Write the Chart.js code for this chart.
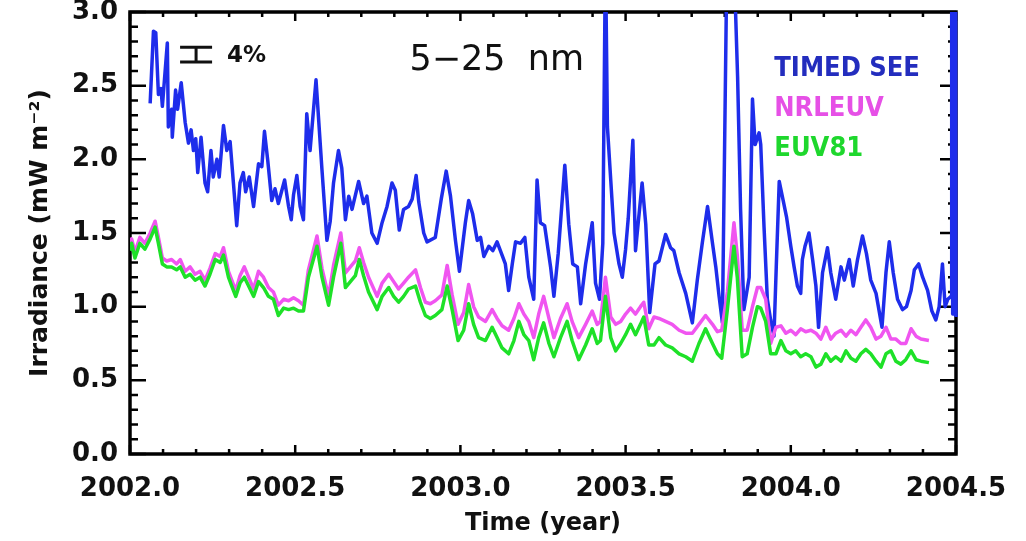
<!DOCTYPE html>
<html>
<head>
<meta charset="utf-8">
<script src="https://cdn.jsdelivr.net/npm/chart.js@4/dist/chart.umd.min.js"></script>
<style>
  html, body { margin: 0; padding: 0; background: #fff; }
  canvas { display: block; }
</style>
</head>
<body>
<canvas id="myChart" width="1026" height="541"></canvas>
<script>
// TIMED SEE measurements (time in fractional years, irradiance in mW m^-2)
var blueYears = [
  2002.061, 2002.071, 2002.078, 2002.086, 2002.094, 2002.098, 2002.113, 2002.116, 2002.126, 2002.128,
  2002.138, 2002.144, 2002.155, 2002.167, 2002.177, 2002.185, 2002.192, 2002.199, 2002.205, 2002.215,
  2002.227, 2002.235, 2002.245, 2002.252, 2002.263, 2002.270, 2002.283, 2002.293, 2002.303, 2002.313,
  2002.323, 2002.333, 2002.343, 2002.350, 2002.361, 2002.374, 2002.389, 2002.399, 2002.407, 2002.417,
  2002.429, 2002.439, 2002.449, 2002.468, 2002.480, 2002.488, 2002.495, 2002.505, 2002.515, 2002.525,
  2002.535, 2002.545, 2002.563, 2002.581, 2002.596, 2002.606, 2002.616, 2002.631, 2002.641, 2002.652,
  2002.662, 2002.672, 2002.692, 2002.707, 2002.717, 2002.732, 2002.748, 2002.763, 2002.778, 2002.793,
  2002.803, 2002.815, 2002.828, 2002.843, 2002.854, 2002.866, 2002.874, 2002.889, 2002.899, 2002.924,
  2002.942, 2002.957, 2002.970, 2002.985, 2002.997, 2003.015, 2003.025, 2003.037, 2003.051, 2003.061,
  2003.071, 2003.086, 2003.098, 2003.111, 2003.121, 2003.136, 2003.146, 2003.157, 2003.167, 2003.182,
  2003.195, 2003.207, 2003.222, 2003.232, 2003.242, 2003.255, 2003.273, 2003.283, 2003.296, 2003.316,
  2003.328, 2003.340, 2003.354, 2003.364, 2003.379, 2003.399, 2003.409, 2003.421, 2003.431, 2003.439,
  2003.445, 2003.465, 2003.480, 2003.490, 2003.500, 2003.508, 2003.522, 2003.530, 2003.550, 2003.561,
  2003.573, 2003.589, 2003.601, 2003.621, 2003.636, 2003.646, 2003.662, 2003.682, 2003.702, 2003.717,
  2003.732, 2003.748, 2003.763, 2003.773, 2003.783, 2003.793, 2003.808, 2003.818, 2003.830, 2003.839,
  2003.848, 2003.858, 2003.874, 2003.884, 2003.892, 2003.904, 2003.909, 2003.919, 2003.929, 2003.939,
  2003.949, 2003.956, 2003.965, 2003.977, 2003.987, 2004.000, 2004.010, 2004.020, 2004.030, 2004.035,
  2004.043, 2004.055, 2004.066, 2004.076, 2004.084, 2004.096, 2004.111, 2004.121, 2004.136, 2004.152,
  2004.162, 2004.177, 2004.189, 2004.202, 2004.217, 2004.229, 2004.242, 2004.258, 2004.276, 2004.288,
  2004.298, 2004.310, 2004.323, 2004.338, 2004.350, 2004.364, 2004.374, 2004.387, 2004.399, 2004.414,
  2004.427, 2004.439, 2004.449, 2004.459, 2004.467, 2004.475, 2004.485, 2004.487, 2004.490, 2004.493,
  2004.496, 2004.499, 2004.500
];
var blueValues = [
  2.38, 2.87, 2.86, 2.44, 2.48, 2.36, 2.79, 2.22, 2.34, 2.15,
  2.47, 2.34, 2.52, 2.25, 2.11, 2.20, 2.06, 2.14, 1.91, 2.15,
  1.84, 1.78, 2.06, 1.88, 2.00, 1.88, 2.23, 2.06, 2.12, 1.84,
  1.55, 1.84, 1.91, 1.78, 1.88, 1.68, 1.97, 1.95, 2.19, 1.99,
  1.72, 1.80, 1.70, 1.86, 1.68, 1.59, 1.76, 1.89, 1.68, 1.59,
  2.31, 2.06, 2.54, 1.93, 1.45, 1.58, 1.84, 2.06, 1.94, 1.59,
  1.75, 1.66, 1.85, 1.70, 1.75, 1.50, 1.43, 1.57, 1.68, 1.84,
  1.79, 1.52, 1.66, 1.68, 1.73, 1.89, 1.71, 1.50, 1.44, 1.47,
  1.73, 1.92, 1.75, 1.45, 1.24, 1.57, 1.72, 1.63, 1.45, 1.47,
  1.34, 1.41, 1.38, 1.44, 1.38, 1.29, 1.11, 1.29, 1.44, 1.43,
  1.47, 1.20, 1.05, 1.86, 1.57, 1.55, 1.27, 1.07, 1.36, 1.96,
  1.56, 1.29, 1.27, 1.02, 1.29, 1.57, 1.16, 1.05, 1.43, 3.40,
  2.22, 1.50, 1.29, 1.20, 1.39, 1.60, 2.13, 1.38, 1.84, 1.56,
  0.96, 1.29, 1.31, 1.49, 1.40, 1.38, 1.23, 1.09, 0.89, 1.18,
  1.43, 1.68, 1.43, 1.27, 1.07, 0.89, 3.60, 3.40, 3.20, 2.56,
  1.66, 0.98, 1.20, 2.41, 2.10, 2.18, 2.10, 1.54, 1.05, 0.91,
  0.80, 1.27, 1.85, 1.72, 1.61, 1.41, 1.27, 1.14, 1.09, 1.32,
  1.41, 1.50, 1.32, 1.14, 0.86, 1.23, 1.40, 1.23, 1.05, 1.27,
  1.18, 1.32, 1.14, 1.32, 1.48, 1.36, 1.18, 1.09, 0.86, 1.23,
  1.44, 1.23, 1.05, 0.98, 1.00, 1.11, 1.25, 1.29, 1.20, 1.11,
  0.97, 0.91, 1.00, 1.29, 1.00, 1.05, 1.07, 3.40, 0.95, 3.40,
  0.95, 3.40, 0.93
];

// NRLEUV and EUV81 model values share one time grid
var modelYears = [
  2002.000, 2002.005, 2002.015, 2002.030, 2002.045, 2002.061, 2002.076, 2002.086, 2002.098, 2002.111,
  2002.126, 2002.141, 2002.152, 2002.167, 2002.182, 2002.197, 2002.212, 2002.227, 2002.242, 2002.258,
  2002.273, 2002.283, 2002.298, 2002.308, 2002.320, 2002.333, 2002.346, 2002.359, 2002.374, 2002.389,
  2002.404, 2002.419, 2002.434, 2002.449, 2002.465, 2002.480, 2002.495, 2002.510, 2002.525, 2002.540,
  2002.566, 2002.581, 2002.601, 2002.616, 2002.638, 2002.652, 2002.667, 2002.682, 2002.694, 2002.707,
  2002.722, 2002.748, 2002.763, 2002.783, 2002.798, 2002.813, 2002.828, 2002.843, 2002.864, 2002.879,
  2002.894, 2002.909, 2002.924, 2002.944, 2002.960, 2002.975, 2002.993, 2003.010, 2003.025, 2003.040,
  2003.055, 2003.076, 2003.096, 2003.111, 2003.126, 2003.146, 2003.162, 2003.177, 2003.192, 2003.207,
  2003.222, 2003.237, 2003.252, 2003.268, 2003.283, 2003.303, 2003.323, 2003.338, 2003.358, 2003.379,
  2003.399, 2003.414, 2003.424, 2003.439, 2003.455, 2003.470, 2003.485, 2003.500, 2003.515, 2003.530,
  2003.545, 2003.555, 2003.570, 2003.586, 2003.601, 2003.621, 2003.641, 2003.662, 2003.682, 2003.702,
  2003.722, 2003.742, 2003.763, 2003.778, 2003.791, 2003.808, 2003.828, 2003.838, 2003.853, 2003.868,
  2003.884, 2003.899, 2003.909, 2003.924, 2003.939, 2003.955, 2003.970, 2003.985, 2004.000, 2004.015,
  2004.030, 2004.045, 2004.061, 2004.076, 2004.091, 2004.106, 2004.121, 2004.136, 2004.152, 2004.167,
  2004.182, 2004.197, 2004.212, 2004.227, 2004.242, 2004.258, 2004.273, 2004.288, 2004.303, 2004.318,
  2004.333, 2004.348, 2004.364, 2004.379, 2004.394, 2004.418
];
var nrlValues = [
  1.42, 1.46, 1.37, 1.47, 1.43, 1.50, 1.58, 1.47, 1.33, 1.31,
  1.32, 1.29, 1.32, 1.24, 1.27, 1.22, 1.24, 1.18, 1.26, 1.36,
  1.34, 1.40, 1.24, 1.18, 1.11, 1.21, 1.27, 1.20, 1.12, 1.24,
  1.20, 1.13, 1.10, 1.01, 1.05, 1.04, 1.06, 1.04, 1.01, 1.25,
  1.48, 1.26, 1.07, 1.28, 1.50, 1.23, 1.27, 1.31, 1.40, 1.30,
  1.20, 1.07, 1.16, 1.22, 1.17, 1.12, 1.16, 1.20, 1.25, 1.13,
  1.03, 1.02, 1.04, 1.08, 1.28, 1.08, 0.88, 0.96, 1.15, 1.00,
  0.93, 0.90, 0.98, 0.92, 0.87, 0.84, 0.92, 1.02, 0.95, 0.90,
  0.79, 0.95, 1.07, 0.92, 0.79, 0.92, 1.02, 0.90, 0.79, 0.88,
  0.97, 0.88, 0.90, 1.20, 0.93, 0.88, 0.90, 0.95, 0.99, 0.95,
  1.00, 1.03, 0.85, 0.93, 0.92, 0.90, 0.88, 0.84, 0.82, 0.82,
  0.88, 0.94, 0.88, 0.83, 0.84, 1.10, 1.57, 1.35, 0.84, 0.84,
  1.00, 1.13, 1.13, 1.05, 0.75, 0.86, 0.87, 0.82, 0.84, 0.81,
  0.85, 0.83, 0.84, 0.82, 0.78, 0.86, 0.78, 0.82, 0.84, 0.80,
  0.84, 0.81, 0.86, 0.91, 0.86, 0.78, 0.80, 0.86, 0.78, 0.78,
  0.75, 0.75, 0.85, 0.80, 0.78, 0.77
];
var euvValues = [
  1.38, 1.43, 1.33, 1.43, 1.39, 1.46, 1.54, 1.43, 1.29, 1.27,
  1.27, 1.25, 1.27, 1.20, 1.22, 1.18, 1.20, 1.14, 1.22, 1.32,
  1.30, 1.35, 1.20, 1.14, 1.07, 1.16, 1.20, 1.14, 1.07, 1.17,
  1.13, 1.07, 1.05, 0.94, 0.99, 0.98, 0.99, 0.97, 0.97, 1.20,
  1.41, 1.20, 1.01, 1.20, 1.43, 1.13, 1.17, 1.21, 1.32, 1.21,
  1.10, 0.98, 1.07, 1.13, 1.07, 1.03, 1.07, 1.12, 1.14, 1.03,
  0.94, 0.92, 0.94, 0.98, 1.14, 0.98, 0.77, 0.84, 1.02, 0.88,
  0.79, 0.77, 0.86, 0.79, 0.72, 0.68, 0.77, 0.90, 0.81, 0.77,
  0.64, 0.79, 0.89, 0.75, 0.66, 0.79, 0.90, 0.77, 0.64, 0.74,
  0.85, 0.75, 0.77, 1.07, 0.79, 0.70, 0.75, 0.81, 0.88, 0.81,
  0.88, 0.93, 0.74, 0.74, 0.79, 0.74, 0.72, 0.68, 0.66, 0.63,
  0.75, 0.85, 0.75, 0.68, 0.65, 0.98, 1.41, 1.20, 0.66, 0.68,
  0.86, 1.00, 0.99, 0.90, 0.68, 0.68, 0.77, 0.70, 0.68, 0.70,
  0.66, 0.68, 0.66, 0.59, 0.61, 0.68, 0.63, 0.66, 0.63, 0.70,
  0.65, 0.63, 0.68, 0.71, 0.68, 0.63, 0.59, 0.68, 0.70, 0.63,
  0.61, 0.64, 0.70, 0.64, 0.63, 0.62
];

// axis ranges / ticks
var xMin = 2002.0, xMax = 2004.5, xMajor = 0.5, xMinor = 0.1;
var yMin = 0.0, yMax = 3.0, yMajor = 0.5, yMinor = 0.1;

var blueColor = 'rgb(30, 45, 235)';
var magentaColor = 'rgb(240, 85, 240)';
var greenColor = 'rgb(30, 225, 40)';

function toPoints(xs, ys) {
  return xs.map(function (x, i) { return { x: x, y: ys[i] }; });
}

// IDL style box with inward ticks, plus in-plot labels
var framePlugin = {
  id: 'frame',
  beforeDatasetsDraw: function (chart) {
    var ctx = chart.ctx, a = chart.chartArea, x = chart.scales.x, y = chart.scales.y;
    ctx.save();
    ctx.strokeStyle = '#000';
    ctx.lineWidth = 2.5;
    var n = Math.round((xMax - xMin) / xMinor);
    for (var i = 0; i <= n; i++) {
      var px = x.getPixelForValue(xMin + i * xMinor);
      var len = (i % Math.round(xMajor / xMinor) === 0) ? 9 : 5;
      ctx.beginPath();
      ctx.moveTo(px, a.bottom); ctx.lineTo(px, a.bottom - len);
      ctx.moveTo(px, a.top); ctx.lineTo(px, a.top + len);
      ctx.stroke();
    }
    var m = Math.round((yMax - yMin) / yMinor);
    for (var j = 0; j <= m; j++) {
      var py = y.getPixelForValue(yMin + j * yMinor);
      var ylen = (j % Math.round(yMajor / yMinor) === 0) ? 16 : 8;
      ctx.beginPath();
      ctx.moveTo(a.left, py); ctx.lineTo(a.left + ylen, py);
      ctx.moveTo(a.right, py); ctx.lineTo(a.right - ylen, py);
      ctx.stroke();
    }
    ctx.lineWidth = 3.5;
    ctx.strokeRect(a.left, a.top, a.right - a.left, a.bottom - a.top);
    ctx.restore();
  },
  afterDraw: function (chart) {
    var ctx = chart.ctx, x = chart.scales.x, y = chart.scales.y;
    ctx.save();
    // 4% error bar marker
    var ex = x.getPixelForValue(2002.2);
    var eTop = y.getPixelForValue(2.76), eBot = y.getPixelForValue(2.66);
    ctx.strokeStyle = '#111';
    ctx.lineWidth = 3;
    ctx.beginPath();
    ctx.moveTo(ex - 16, eTop); ctx.lineTo(ex + 16, eTop);
    ctx.moveTo(ex - 16, eBot); ctx.lineTo(ex + 16, eBot);
    ctx.moveTo(ex, eTop); ctx.lineTo(ex, eBot);
    ctx.stroke();
    ctx.fillStyle = '#111';
    ctx.textBaseline = 'middle';
    ctx.textAlign = 'left';
    ctx.font = 'bold 23px "DejaVu Sans"';
    ctx.fillText('4%', ex + 31, (eTop + eBot) / 2 + 1);

    ctx.textAlign = 'center';
    ctx.font = '35px "DejaVu Sans"';
    ctx.fillText('5\u221225  nm', x.getPixelForValue(2003.11), 61);

    ctx.textAlign = 'left';
    ctx.font = 'bold 27px "DejaVu Sans Condensed", "DejaVu Sans"';
    var lx = x.getPixelForValue(2003.95);
    ctx.fillStyle = 'rgb(35, 45, 190)';
    ctx.fillText('TIMED SEE', lx, 69);
    ctx.fillStyle = 'rgb(230, 80, 230)';
    ctx.fillText('NRLEUV', lx, 109);
    ctx.fillStyle = 'rgb(30, 215, 45)';
    ctx.fillText('EUV81', lx, 149);
    ctx.restore();
  }
};

var tickFont = { family: 'DejaVu Sans', size: 26, weight: 'bold' };
var titleFont = { family: 'DejaVu Sans', size: 24, weight: 'bold' };

var ctx = document.getElementById('myChart').getContext('2d');
var chart = new Chart(ctx, {
  type: 'line',
  data: {
    datasets: [{
      label: 'EUV81',
      data: toPoints(modelYears, euvValues),
      borderColor: greenColor,
      borderWidth: 3.5
    }, {
      label: 'NRLEUV',
      data: toPoints(modelYears, nrlValues),
      borderColor: magentaColor,
      borderWidth: 3.5
    }, {
      label: 'TIMED SEE',
      data: toPoints(blueYears, blueValues),
      borderColor: blueColor,
      borderWidth: 3.5,
      clip: { left: 2, top: 0, right: 4, bottom: 2 }
    }]
  },
  options: {
    responsive: false,
    animation: false,
    layout: { padding: { left: 0, top: 12, right: 70, bottom: 0 } },
    elements: {
      point: { radius: 0 },
      line: { tension: 0, fill: false, borderJoinStyle: 'round' }
    },
    plugins: {
      legend: { display: false },
      tooltip: { enabled: false }
    },
    scales: {
      x: {
        type: 'linear',
        min: xMin,
        max: xMax,
        grid: { display: false, drawTicks: false },
        border: { display: false },
        ticks: {
          stepSize: xMajor,
          autoSkip: false,
          maxRotation: 0,
          padding: 20,
          color: '#111',
          font: tickFont,
          callback: function (v) { return v.toFixed(1); }
        },
        title: {
          display: true,
          text: 'Time (year)',
          color: '#111',
          font: titleFont,
          padding: { top: 0, bottom: 3 }
        },
        afterFit: function (scale) {
          scale.height = 87;
          scale.paddingLeft = 0;
          scale.paddingRight = 0;
        }
      },
      y: {
        min: yMin,
        max: yMax,
        grid: { display: false, drawTicks: false },
        border: { display: false },
        ticks: {
          stepSize: yMajor,
          padding: 12,
          color: '#111',
          font: tickFont,
          callback: function (v) { return v.toFixed(1); }
        },
        title: {
          display: true,
          text: 'Irradiance (mW m\u207B\u00B2)',
          color: '#111',
          font: { family: 'DejaVu Sans', size: 25, weight: 'bold' },
          padding: { top: 25, bottom: 0 }
        },
        afterFit: function (scale) {
          scale.width = 130;
          scale.paddingTop = 0;
          scale.paddingBottom = 0;
        }
      }
    }
  },
  plugins: [framePlugin]
});
</script>
</body>
</html>
